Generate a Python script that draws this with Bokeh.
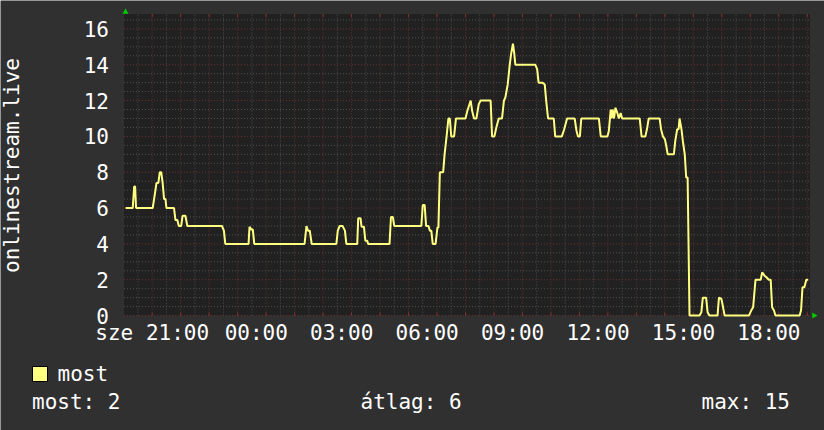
import numpy as np
from bokeh.plotting import figure
from bokeh.models import Range1d
from bokeh.core.properties import value
from bokeh.embed import file_html
from bokeh.resources import INLINE

# ---- data (minutes after 20:00 on "sze", listeners of stream "most") ----
minutes = [4, 19, 22, 24, 26, 61, 64, 69, 73, 76, 79, 82, 85, 88, 90,
           106, 109, 113, 116, 121, 124, 130, 134, 207, 211, 214,
           263, 265, 269, 272, 275,
           381, 385, 388, 392, 396, 448, 451, 455, 461, 466, 469,
           492, 494, 499, 501, 506, 509, 513, 515, 560, 563, 567, 570,
           627, 630, 634, 637, 642, 645, 648, 651, 657, 661, 663, 666, 673,
           676, 680, 684, 687, 690, 696, 700, 720, 724, 731, 734, 738, 743, 748, 752,
           773, 776, 781, 785, 790, 797, 801, 804, 809, 813, 816, 820, 823, 825,
           867, 871, 874, 882, 887, 890, 894, 906, 909, 923, 928, 934,
           950, 954, 957, 961, 964, 1001, 1005, 1019, 1022, 1026, 1028, 1030, 1033,
           1036, 1040, 1043, 1047, 1050, 1087, 1091, 1099, 1103, 1106,
           1129, 1132, 1136, 1140, 1143, 1146, 1159, 1162, 1166, 1169, 1171, 1175,
           1178, 1182, 1185, 1188, 1192, 1213, 1217, 1220, 1227, 1230, 1234, 1251, 1254,
           1259, 1262, 1266, 1317, 1322, 1326, 1331, 1342, 1345, 1350, 1354, 1359,
           1363, 1366, 1370, 1373, 1424, 1427, 1430, 1434, 1438, 1442]
listeners = [6.0, 6.0, 7.2, 7.2, 6.0, 6.0, 6.5, 7.4, 7.4, 8.0, 8.0, 7.4, 6.5, 6.5, 6.0,
             6.0, 5.33, 5.33, 5.0, 5.0, 5.57, 5.57, 5.0, 5.0, 4.74, 4.0,
             4.0, 4.96, 4.8, 4.8, 4.0,
             4.0, 5.0, 4.74, 4.74, 4.0, 4.0, 4.74, 5.0, 5.0, 4.74, 4.0,
             4.0, 5.43, 5.43, 4.96, 4.96, 4.18, 4.18, 4.0, 4.0, 5.5, 5.5, 5.0,
             5.0, 6.17, 6.17, 5.0, 5.0, 4.74, 4.74, 4.0, 4.0, 4.92, 4.92, 8.0, 8.0,
             9.0, 9.94, 11.0, 11.0, 10.0, 10.0, 11.0, 11.0, 11.43, 12.0, 11.43, 11.0, 11.0, 11.8, 12.0,
             12.0, 10.0, 10.0, 10.5, 11.0, 11.0, 12.0, 12.17, 12.9, 13.93, 14.58, 15.18, 14.58, 14.0,
             14.0, 13.75, 13.0, 13.0, 12.9, 12.0, 11.0, 11.0, 10.0, 10.0, 10.4, 11.0,
             11.0, 10.3, 10.0, 10.0, 11.0, 11.0, 10.0, 10.0, 10.3, 11.5, 11.0, 11.5, 11.0,
             11.6, 11.3, 11.0, 11.3, 11.0, 11.0, 10.0, 10.0, 10.5, 11.0,
             11.0, 10.4, 10.0, 9.85, 9.48, 9.0, 9.0, 9.75, 10.4, 10.4, 11.0, 10.4,
             9.73, 9.0, 7.7, 7.7, 0.0, 0.0, 0.19, 1.0, 1.0, 0.19, 0.0, 0.0, 1.0,
             0.95, 0.56, 0.0, 0.0, 0.28, 0.46, 2.0, 2.0, 2.41, 2.23, 2.14, 2.0,
             2.0, 0.46, 0.28, 0.0, 0.0, 0.3, 1.58, 1.58, 2.0, 2.0]

x_tick_hours = [1, 4, 7, 10, 13, 16, 19, 22]
x_tick_labels = ["sze 21:00", "00:00", "03:00", "06:00", "09:00", "12:00", "15:00", "18:00"]
y_ticks = [0, 2, 4, 6, 8, 10, 12, 14, 16]
y_tick_labels = [str(v) for v in y_ticks]
axis_title = "onlinestream.live"
series_name = "most"
stat_texts = ["most: 2", "átlag: 6", "max: 15"]

# ---- styling / geometry (page pixels) ----
FONT = value("DejaVu Sans Mono")
FS = value("21px")
BG = "#303030"
PLOT_BG = "#212121"
LINE = "#ffff80"
MGRID = "#6a3030"
GRID = "#505050"
W, H = 824, 430
PX_PER_H, H1_PX = 28.48, 151.7        # 1 hour in px, px of hour 1 (21:00)
PX_PER_U, ZERO_PY = 17.92, 315.1      # 1 listener in px, px of value 0
AREA_L, AREA_R, AREA_T = 123.5, 809.5, 13.5


def hx(px):
    return 1 + (px - H1_PX) / PX_PER_H


def vy(py):
    return (ZERO_PY - py) / PX_PER_U


X0, X1 = hx(AREA_L), hx(AREA_R)
Y0, Y1 = 0.0, vy(AREA_T)

p = figure(width=W, height=H, output_backend="svg", toolbar_location=None,
           x_range=Range1d(hx(0), hx(W)), y_range=Range1d(vy(H), vy(0)),
           min_border_left=0, min_border_right=0, min_border_top=0,
           min_border_bottom=0, background_fill_color=BG, border_fill_color=BG)
p.outline_line_color = None
p.xaxis.visible = False
p.yaxis.visible = False
p.grid.visible = False

# plot area
p.quad(left=[X0], right=[X1], bottom=[Y0], top=[Y1], fill_color=PLOT_BG,
       line_color=None)

# grid
half_hours = [h / 2 for h in range(0, 50) if X0 < h / 2 < X1 and h % 2 == 1]
full_hours = [h for h in range(0, 26) if X0 < h < X1]
half_units = [v / 2 for v in range(1, 34) if v % 4 != 0 and v / 2 < Y1]
major_units = [v for v in y_ticks if v < Y1]

p.segment(x0=half_hours, x1=half_hours, y0=[Y0] * len(half_hours),
          y1=[Y1] * len(half_hours), line_color=GRID, line_dash="1 2", line_width=1)
p.segment(x0=[X0] * len(half_units), x1=[X1] * len(half_units), y0=half_units,
          y1=half_units, line_color=GRID, line_dash="1 2", line_width=1)
p.segment(x0=full_hours, x1=full_hours, y0=[Y0] * len(full_hours),
          y1=[Y1] * len(full_hours), line_color=MGRID, line_dash="1 2", line_width=1)
p.segment(x0=[X0] * len(major_units), x1=[X1] * len(major_units), y0=major_units,
          y1=major_units, line_color=MGRID, line_dash="1 2", line_width=1)

# tick marks on bottom and top edges
tick_len = 3 / PX_PER_U
p.segment(x0=full_hours, x1=full_hours, y0=[Y0] * len(full_hours),
          y1=[Y0 + tick_len] * len(full_hours), line_color="#8a3030", line_width=1)
p.segment(x0=full_hours, x1=full_hours, y0=[Y1] * len(full_hours),
          y1=[Y1 - tick_len] * len(full_hours), line_color="#8a3030", line_width=1)

# data
p.line(np.array(minutes) / 60.0, listeners, line_color=LINE, line_width=2)

# y tick labels
p.text(x=[hx(108.5)] * len(y_ticks), y=y_ticks, text=y_tick_labels,
       text_align="right", text_baseline="middle", text_font=FONT,
       text_font_size=FS, text_color="white")

# x tick labels
p.text(x=x_tick_hours[:1], y=[vy(332)], text=x_tick_labels[:1],
       text_align="center", text_baseline="middle", text_font=FONT,
       text_font_size=FS, text_color="white")
p.text(x=x_tick_hours[1:], y=[vy(332)] * (len(x_tick_hours) - 1),
       text=x_tick_labels[1:], x_offset=-13, text_align="left",
       text_baseline="middle", text_font=FONT, text_font_size=FS,
       text_color="white")

# y title
p.text(x=[hx(11)], y=[vy(165)], text=[axis_title], angle=np.pi / 2,
       text_align="center", text_baseline="middle", text_font=FONT,
       text_font_size=FS, text_color="white")

# green arrows at the axis ends
p.scatter(x=[hx(125)], y=[vy(11.5)], marker="triangle", size=6,
          fill_color="#00cc00", line_color=None)
p.scatter(x=[hx(813.5)], y=[vy(315)], marker="triangle", size=6, angle=-np.pi / 2,
          fill_color="#00cc00", line_color=None)

# legend
p.quad(left=[hx(32)], right=[hx(47)], top=[vy(366)], bottom=[vy(381)],
       fill_color=LINE, line_color="black", line_width=1)
p.text(x=[hx(57)], y=[vy(373.5)], text=[series_name], text_align="left",
       text_baseline="middle", text_font=FONT, text_font_size=FS,
       text_color="white")
p.text(x=[hx(31.5), hx(360), hx(701)], y=[vy(401.5)] * 3, text=stat_texts,
       text_align="left", text_baseline="middle", text_font=FONT,
       text_font_size=FS, text_color="white")

open("out.html", "w").write(file_html(p, INLINE))
